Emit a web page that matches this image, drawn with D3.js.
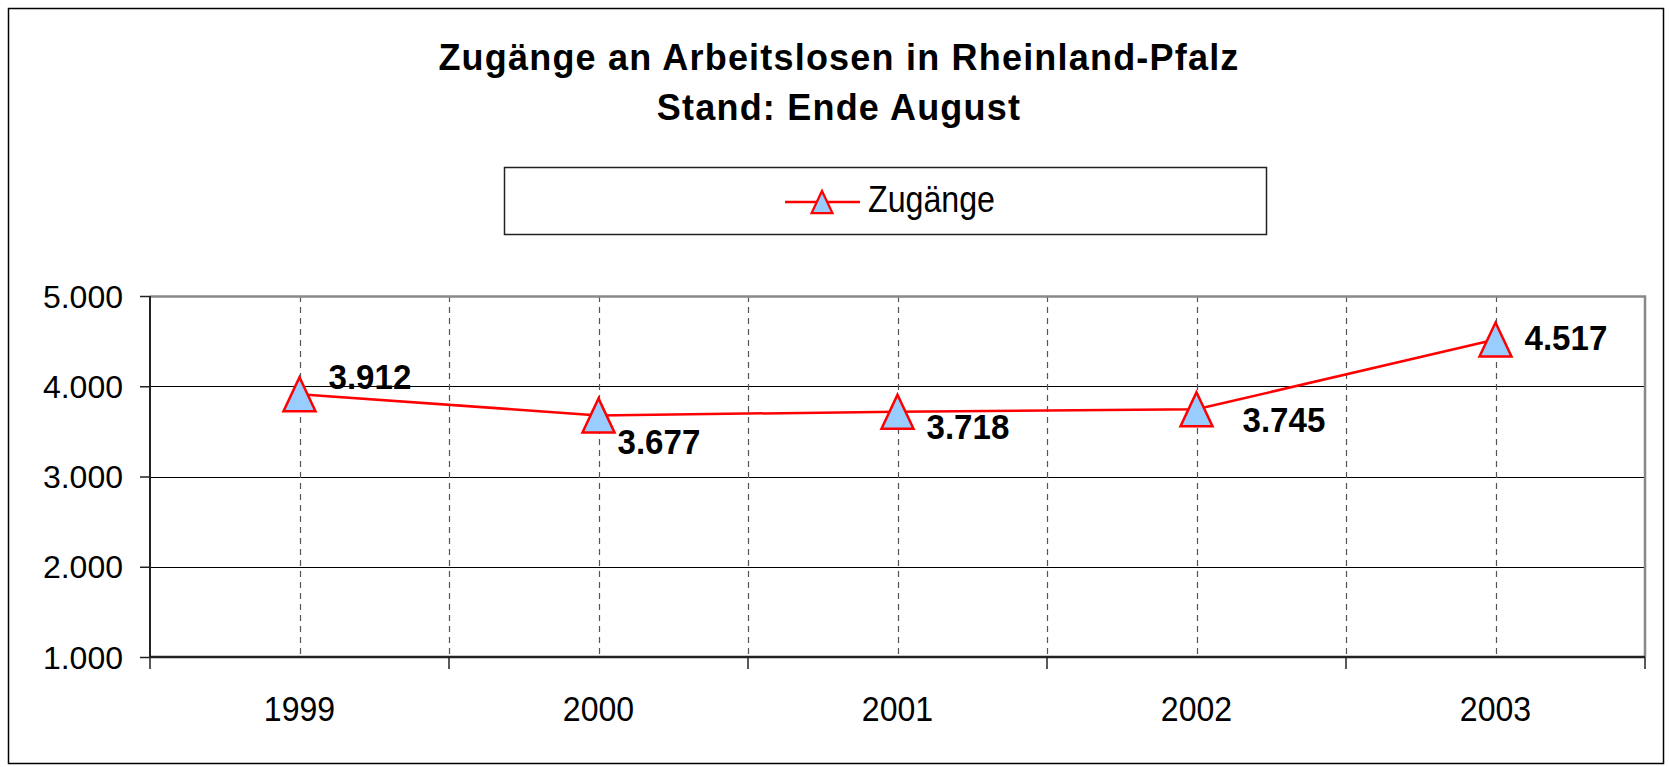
<!DOCTYPE html>
<html>
<head>
<meta charset="utf-8">
<style>
    body { margin: 0; background: #fff; }
    text { font-family: "Liberation Sans", Arial, sans-serif; }
</style>
</head>
<body>
<svg width="1669" height="767"></svg>

<script src="https://cdnjs.cloudflare.com/ajax/libs/d3/7.8.5/d3.min.js"></script>
<script>
    // data
    var years = ["1999", "2000", "2001", "2002", "2003"];
    var zugaenge = [3912, 3677, 3718, 3745, 4517];
    var yTicks = [1000, 2000, 3000, 4000, 5000];
    var seriesName = "Zugänge";
    var titleLines = ["Zugänge an Arbeitslosen in Rheinland-Pfalz", "Stand: Ende August"];

    // label offsets from each point (dx, dy to baseline)
    var labelOffsets = [[29, -5], [19, 39], [29, 27], [46, 23], [29, 10]];

    var svg = d3.select("svg"),
        margin = {top: 296, right: 24, bottom: 110, left: 150},
        width = +svg.attr("width") - margin.left - margin.right,
        height = +svg.attr("height") - margin.top - margin.bottom;

    var fmt = function (v) { return d3.format(",")(v).replace(/,/g, "."); };

    // outer frame
    svg.append("rect")
        .attr("x", 8.5).attr("y", 8.5)
        .attr("width", 1655).attr("height", 755)
        .attr("fill", "none")
        .attr("stroke", "#000")
        .attr("stroke-width", 1.5);

    // title
    svg.append("g").selectAll("text")
        .data(titleLines)
        .enter().append("text")
        .attr("x", 839)
        .attr("y", function (d, i) { return 70 + i * 50; })
        .attr("text-anchor", "middle")
        .attr("font-size", 36)
        .attr("font-weight", "bold")
        .attr("letter-spacing", 1.2)
        .text(function (d) { return d; });

    var g = svg.append("g").attr("transform", "translate(" + margin.left + "," + margin.top + ")");

    var x = d3.scaleBand().domain(years).range([0, width]);
    var y = d3.scaleLinear().domain([1000, 5000]).range([height, 0]);

    // horizontal gridlines
    g.append("g")
        .selectAll("line")
        .data(yTicks.slice(1, -1))
        .enter().append("line")
        .attr("x1", 0).attr("x2", width)
        .attr("y1", function (d) { return Math.round(y(d)) + 0.5; })
        .attr("y2", function (d) { return Math.round(y(d)) + 0.5; })
        .attr("stroke", "#000")
        .attr("stroke-width", 1);

    // dashed verticals: category centres and band boundaries
    var vlines = years.map(function (d) { return x(d) + x.bandwidth() / 2; })
        .concat(years.slice(1).map(function (d) { return x(d); }));
    g.append("g")
        .selectAll("line")
        .data(vlines)
        .enter().append("line")
        .attr("x1", function (d) { return Math.round(d) + 0.5; })
        .attr("x2", function (d) { return Math.round(d) + 0.5; })
        .attr("y1", 0).attr("y2", height)
        .attr("stroke", "#555")
        .attr("stroke-width", 1.2)
        .attr("stroke-dasharray", "6,5");

    // plot frame top / right (grey)
    g.append("path")
        .attr("d", "M0,0.5H" + width + "V" + height)
        .attr("fill", "none")
        .attr("stroke", "#888")
        .attr("stroke-width", 2.5);

    // y axis
    var yAxis = g.append("g")
        .call(d3.axisLeft(y).tickValues(yTicks).tickSize(10).tickPadding(17).tickFormat(fmt));
    yAxis.select(".domain").attr("stroke", "#222").attr("stroke-width", 2).attr("d", "M0,0V" + height);
    yAxis.selectAll(".tick line").attr("stroke", "#222").attr("stroke-width", 1.5);
    yAxis.selectAll("text")
        .attr("font-family", "Liberation Sans, Arial, sans-serif")
        .attr("font-size", 32)
        .attr("fill", "#000")
        .attr("dy", "0.35em");

    // x axis: ticks at band boundaries
    var bounds = years.map(function (d) { return x(d); }).concat([width]);
    var xAxis = g.append("g").attr("transform", "translate(0," + height + ")");
    xAxis.append("line")
        .attr("x1", 0).attr("x2", width)
        .attr("y1", 0).attr("y2", 0)
        .attr("stroke", "#222")
        .attr("stroke-width", 2.5);
    xAxis.selectAll(".btick")
        .data(bounds)
        .enter().append("line")
        .attr("class", "btick")
        .attr("x1", function (d) { return d; })
        .attr("x2", function (d) { return d; })
        .attr("y1", 0).attr("y2", 12)
        .attr("stroke", "#222")
        .attr("stroke-width", 1.5);
    xAxis.selectAll(".xlab")
        .data(years)
        .enter().append("text")
        .attr("class", "xlab")
        .attr("transform", function (d) {
            return "translate(" + (x(d) + x.bandwidth() / 2) + ",64) scale(0.89,1)";
        })
        .attr("text-anchor", "middle")
        .attr("font-size", 36)
        .text(function (d) { return d; });

    // line
    var points = years.map(function (d, i) { return {year: d, value: zugaenge[i]}; });
    var line = d3.line()
        .x(function (d) { return x(d.year) + x.bandwidth() / 2; })
        .y(function (d) { return y(d.value); });

    g.append("path")
        .datum(points)
        .attr("d", line)
        .attr("fill", "none")
        .attr("stroke", "#ff0000")
        .attr("stroke-width", 2.5);

    var tri = "M0,-17L16,17L-16,17Z";

    g.append("g")
        .selectAll("path")
        .data(points)
        .enter().append("path")
        .attr("transform", function (d) {
            return "translate(" + (x(d.year) + x.bandwidth() / 2) + "," + y(d.value) + ")";
        })
        .attr("d", tri)
        .attr("fill", "#99ccff")
        .attr("stroke", "#ff0000")
        .attr("stroke-width", 2.5)
        .attr("stroke-linejoin", "miter");

    // data labels
    g.append("g")
        .selectAll("text")
        .data(points)
        .enter().append("text")
        .attr("transform", function (d, i) {
            return "translate(" + (x(d.year) + x.bandwidth() / 2 + labelOffsets[i][0]) + "," +
                (y(d.value) + labelOffsets[i][1]) + ") scale(0.92,1)";
        })
        .attr("font-size", 36)
        .attr("font-weight", "bold")
        .text(function (d) { return fmt(d.value); });

    // legend
    var legend = svg.append("g");
    legend.append("rect")
        .attr("x", 504.5).attr("y", 167.5)
        .attr("width", 762).attr("height", 67)
        .attr("fill", "#fff")
        .attr("stroke", "#222")
        .attr("stroke-width", 1.5);
    legend.append("line")
        .attr("x1", 785).attr("x2", 860)
        .attr("y1", 202).attr("y2", 202)
        .attr("stroke", "#ff0000")
        .attr("stroke-width", 2.5);
    legend.append("path")
        .attr("transform", "translate(822,202) scale(0.65)")
        .attr("d", tri)
        .attr("fill", "#99ccff")
        .attr("stroke", "#ff0000")
        .attr("stroke-width", 3.5);
    legend.append("text")
        .attr("transform", "translate(868,212) scale(0.87,1)")
        .attr("font-size", 37)
        .text(seriesName);
</script>
</body>
</html>
